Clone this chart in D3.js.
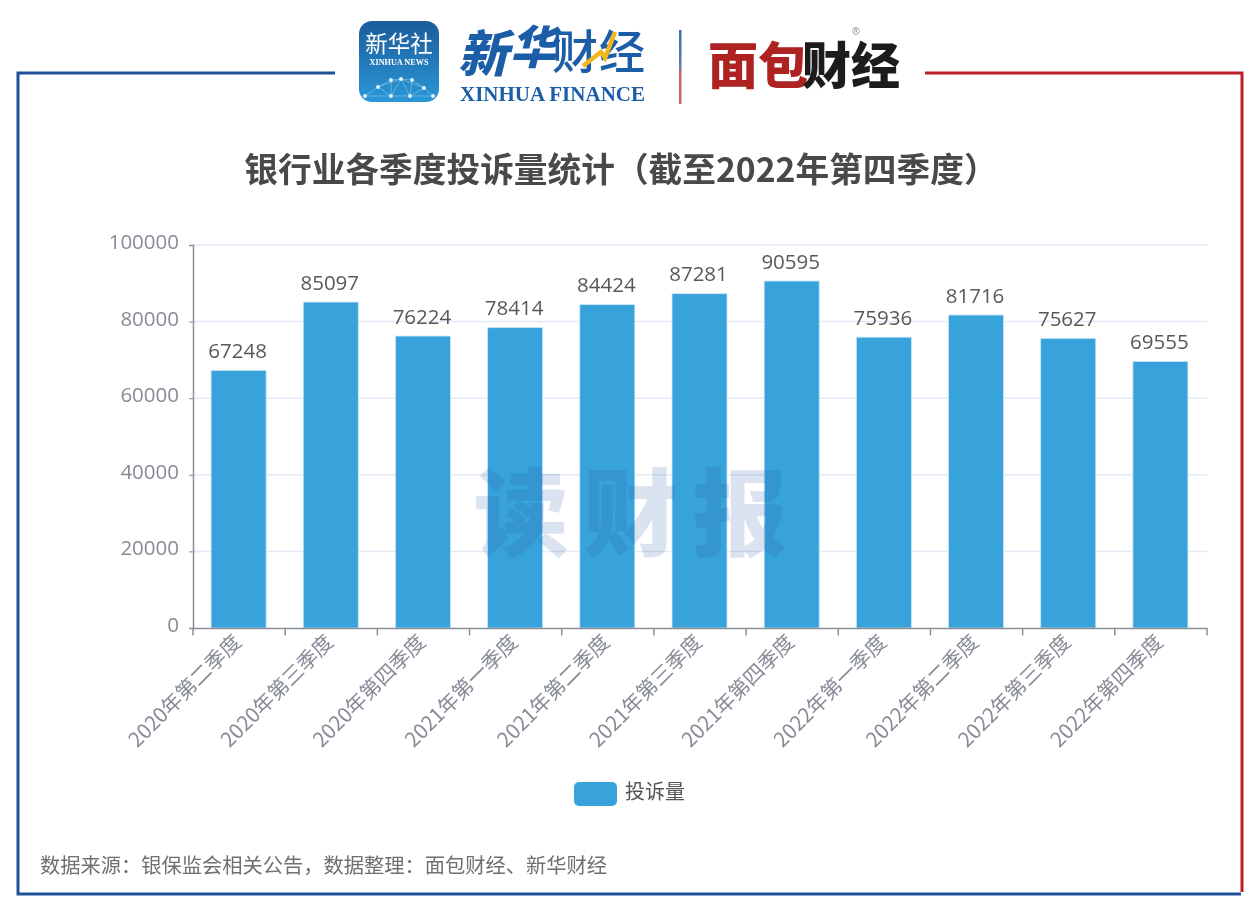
<!DOCTYPE html>
<html><head><meta charset="utf-8">
<script src="https://cdn.jsdelivr.net/npm/d3@7"></script>
<style>html,body{margin:0;padding:0;background:#fff;overflow:hidden}svg{display:block}</style>
</head><body><svg id="c" width="1260" height="913"></svg>
<script>
const categories=["2020年第二季度","2020年第三季度","2020年第四季度","2021年第一季度","2021年第二季度","2021年第三季度","2021年第四季度","2022年第一季度","2022年第二季度","2022年第三季度","2022年第四季度"];
const complaints=[67248,85097,76224,78414,84424,87281,90595,75936,81716,75627,69555];
const yTicks=[0,20000,40000,60000,80000,100000];
const titleText="银行业各季度投诉量统计（截至2022年第四季度）";
const seriesName="投诉量";
const sourceText="数据来源：银保监会相关公告，数据整理：面包财经、新华财经";
const watermarkChars=["读","财","报"];

const CJK='"Noto Sans CJK SC","Noto Sans",sans-serif';
const svg=d3.select("#c");
const defs=svg.append("defs");
const g1=defs.append("linearGradient").attr("id","icon").attr("x1",0).attr("x2",0).attr("y1",0).attr("y2",1);
g1.append("stop").attr("offset","0%").attr("stop-color","#1d5c9a");
g1.append("stop").attr("offset","100%").attr("stop-color","#2a97d8");
const g2=defs.append("linearGradient").attr("id","sep").attr("x1",0).attr("x2",0).attr("y1",0).attr("y2",1);
g2.append("stop").attr("offset","0%").attr("stop-color","#3b6ea5");
g2.append("stop").attr("offset","50%").attr("stop-color","#5c7fa8");
g2.append("stop").attr("offset","60%").attr("stop-color","#c9626a");
g2.append("stop").attr("offset","100%").attr("stop-color","#c9626a");
defs.append("filter").attr("id","soft").append("feGaussianBlur").attr("stdDeviation",0.45);

// frame
const BLUE="#1f5199",RED="#bd1f2a";
svg.append("path").attr("d","M335,73H18V894H1241").attr("fill","none").attr("stroke",BLUE).attr("stroke-width",3);
svg.append("path").attr("d","M925,73H1242V892").attr("fill","none").attr("stroke",RED).attr("stroke-width",3);

// scales
const x=d3.scaleBand().domain(categories).range([193,1207]).paddingInner(0).paddingOuter(0);
const y=d3.scaleLinear().domain([0,100000]).range([628,245]);
const chart=svg.append("g").attr("filter","url(#soft)");

// grid
chart.append("g").selectAll("line").data(yTicks.filter(d=>d>0)).join("line")
 .attr("x1",193).attr("x2",1207).attr("y1",d=>y(d)).attr("y2",d=>y(d))
 .attr("stroke","#e4e9f5").attr("stroke-width",1.5);

// bars
const barW=55;
chart.append("g").selectAll("rect").data(complaints).join("rect")
 .attr("x",(d,i)=>x(categories[i])+x.bandwidth()/2-barW/2-0.5)
 .attr("width",barW).attr("y",d=>y(d)).attr("height",d=>y(0)-y(d))
 .attr("fill","#37a2da").attr("stroke","#c5e6f7").attr("stroke-width",0.8);

// value labels
chart.append("g").selectAll("text").data(complaints).join("text")
 .attr("x",(d,i)=>x(categories[i])+x.bandwidth()/2-1.5).attr("y",d=>y(d)-12.5)
 .attr("text-anchor","middle").attr("font-family",'"Open Sans",sans-serif').attr("font-size",20.5)
 .attr("fill","#595959").text(d=>d);

// axes
const yAxis=chart.append("g").attr("transform","translate(193,0)").call(d3.axisLeft(y).tickValues(yTicks).tickSize(4).tickPadding(10).tickFormat(d=>d));
yAxis.select(".domain").attr("stroke","#8a8e99").attr("stroke-width",1.5);
yAxis.selectAll(".tick line").attr("stroke","#8a8e99");
yAxis.selectAll("text").attr("font-family",'"Open Sans",sans-serif').attr("font-size",20.5).attr("fill","#878b96").attr("dy","0.17em");

const xAxis=chart.append("g").attr("transform","translate(0,628)").call(d3.axisBottom(x).tickSize(0).tickFormat(""));
xAxis.select(".domain").attr("stroke","#8a8e99").attr("stroke-width",1.5);
xAxis.selectAll(".tick").remove();
const edge=d3.scaleLinear().domain([0,11]).range([193,1207]);
chart.append("g").selectAll("line").data(categories.concat(["end"])).join("line")
 .attr("x1",(d,i)=>edge(i)).attr("x2",(d,i)=>edge(i))
 .attr("y1",628).attr("y2",635.5).attr("stroke","#8a8e99").attr("stroke-width",1.5);
chart.append("g").selectAll("text").data(categories).join("text")
 .attr("transform",d=>`translate(${x(d)+x.bandwidth()/2-3},${637}) rotate(-45)`)
 .attr("text-anchor","end").attr("dominant-baseline","central")
 .attr("font-family",CJK).attr("font-size",20.6).attr("fill","#878b96").text(d=>d);

// title
chart.append("text").attr("x",621).attr("y",182).attr("text-anchor","middle")
 .attr("font-family",CJK).attr("font-weight",700).attr("font-size",33.7).attr("fill","#4a4a4a").text(titleText);

// watermark
const wm=d3.scalePoint().domain(watermarkChars).range([521,740]);
chart.append("g").selectAll("text").data(watermarkChars).join("text")
 .attr("x",d=>wm(d)).attr("y",549).attr("text-anchor","middle")
 .attr("font-family",CJK).attr("font-weight",900).attr("font-size",95)
 .attr("fill","#2a5ba8").attr("fill-opacity",0.17).text(d=>d);

// legend
chart.append("rect").attr("x",574).attr("y",782).attr("width",43).attr("height",24).attr("rx",5).attr("fill","#37a2da");
chart.append("text").attr("x",625).attr("y",799).attr("font-family",CJK).attr("font-size",20).attr("fill","#555").text(seriesName);

// source
chart.append("text").attr("x",40).attr("y",873).attr("font-family",CJK).attr("font-size",20.25).attr("fill","#6f6f6f").text(sourceText);

// logos
const logo=svg.append("g").attr("filter","url(#soft)");
logo.append("rect").attr("x",359).attr("y",21).attr("width",80).attr("height",81).attr("rx",13).attr("fill","url(#icon)");
logo.append("text").attr("x",399).attr("y",52).attr("text-anchor","middle").attr("font-family",CJK).attr("font-size",22.5).attr("fill","#fff").text("新华社");
logo.append("text").attr("x",399).attr("y",65).attr("text-anchor","middle").attr("font-family",'"Liberation Serif",serif').attr("font-weight",700).attr("font-size",8.2).attr("fill","#fff").text("XINHUA NEWS");
const nodes=[[365,96],[378,87],[391,80],[401,79],[412,80],[424,88],[433,96],[391,96],[410,96]];
const links=[[0,1],[1,2],[2,3],[3,4],[4,5],[5,6],[1,7],[2,7],[3,7],[3,8],[4,8],[5,8],[7,8],[1,3],[3,5],[0,7],[8,6]];
logo.append("g").selectAll("line").data(links).join("line")
 .attr("x1",d=>nodes[d[0]][0]).attr("y1",d=>nodes[d[0]][1]).attr("x2",d=>nodes[d[1]][0]).attr("y2",d=>nodes[d[1]][1])
 .attr("stroke","#bfe3f7").attr("stroke-opacity",.6).attr("stroke-width",.7);
logo.append("g").selectAll("circle").data(nodes).join("circle")
 .attr("cx",d=>d[0]).attr("cy",d=>d[1]).attr("r",1.9).attr("fill","#e8f6ff");

logo.append("text").attr("transform","translate(458,72) skewX(-14)").attr("font-family",'"Noto Sans CJK SC"').attr("font-weight",900).attr("font-size",50).attr("fill","#1a5da8").text("新");
logo.append("text").attr("transform","translate(510,64) skewX(-14)").attr("font-family",'"Noto Sans CJK SC"').attr("font-weight",900).attr("font-size",46).attr("fill","#1a5da8").text("华");
logo.append("text").attr("x",552).attr("y",68).attr("font-family",CJK).attr("font-weight",500).attr("font-size",46).attr("fill","#1a5da8").text("财");
logo.append("text").attr("x",599).attr("y",68).attr("font-family",CJK).attr("font-weight",500).attr("font-size",46).attr("fill","#1a5da8").text("经");
logo.append("path").attr("d","M548,66L566,52L570,58L580,32").attr("transform","translate(35,0)").attr("fill","none").attr("stroke","#f3b61f").attr("stroke-width",4.5);
logo.append("text").attr("x",460).attr("y",101).attr("textLength",185).attr("lengthAdjust","spacingAndGlyphs").attr("font-family",'"Liberation Serif",serif').attr("font-weight",700).attr("font-size",22).attr("fill","#1a5da8").text("XINHUA FINANCE");

logo.append("rect").attr("x",679).attr("y",30).attr("width",2.5).attr("height",74).attr("fill","url(#sep)");

logo.append("text").attr("x",708).attr("y",84).attr("textLength",100).attr("lengthAdjust","spacingAndGlyphs").attr("font-family",CJK).attr("font-weight",900).attr("font-size",50).attr("fill","#ae2323").text("面包");
logo.append("text").attr("x",802).attr("y",84).attr("textLength",98).attr("lengthAdjust","spacingAndGlyphs").attr("font-family",CJK).attr("font-weight",900).attr("font-size",50).attr("fill","#1e1a1a").text("财经");
logo.append("text").attr("x",856).attr("y",35).attr("text-anchor","middle").attr("font-family",'"Liberation Sans",sans-serif').attr("font-size",10).attr("fill","#888").text("®");
</script></body></html>
